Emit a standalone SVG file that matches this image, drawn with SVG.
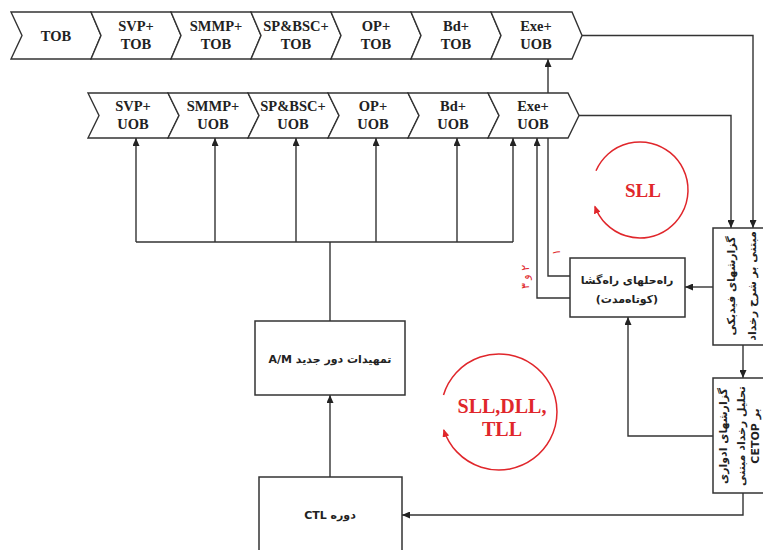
<svg xmlns="http://www.w3.org/2000/svg" width="763" height="550" viewBox="0 0 763 550">
<style>
.chev{fill:#fff;stroke:#333;stroke-width:1.4}
.box{fill:#fff;stroke:#333;stroke-width:1.5}
.lbl{font-family:"Liberation Serif","Times New Roman",serif;font-weight:bold;font-size:14.5px;fill:#222;text-anchor:middle}
.fa{font-family:"DejaVu Sans","Noto Sans",sans-serif;font-weight:bold;font-size:11px;fill:#222;text-anchor:middle;direction:rtl;unicode-bidi:embed}
.ln{fill:none;stroke:#333;stroke-width:1.4}
.arr{marker-end:url(#ah)}
.red{fill:none;stroke:#e0262b;stroke-width:1.5;marker-end:url(#rh)}
.rt{font-family:"Liberation Serif","Times New Roman",serif;font-weight:bold;fill:#e0262b;text-anchor:middle}
.rn{font-family:"DejaVu Sans",sans-serif;font-size:11px;fill:#e0262b;text-anchor:middle;direction:rtl;unicode-bidi:embed}
</style>
<defs>
<marker id="ah" markerUnits="userSpaceOnUse" markerWidth="8" markerHeight="7" refX="8" refY="3.5" orient="auto"><path d="M0,0 L8,3.5 L0,7 Z" fill="#222"/></marker>
<marker id="rh" markerUnits="userSpaceOnUse" markerWidth="8" markerHeight="7" refX="7" refY="3.5" orient="auto"><path d="M0,0 L8,3.5 L0,7 Z" fill="#e0262b"/></marker>
</defs>
<rect width="763" height="550" fill="#fff"/>

<g id="connectors">
<path class="ln arr" d="M582,35.5 H753 V228"/>
<path class="ln arr" d="M579,115.5 H731 V228"/>
<path class="ln" d="M136,242 H513"/>
<path class="ln arr" d="M136,242 V138"/>
<path class="ln arr" d="M215,242 V138"/>
<path class="ln arr" d="M296,242 V138"/>
<path class="ln arr" d="M376,242 V138"/>
<path class="ln arr" d="M457,242 V138"/>
<path class="ln arr" d="M513,242 V138"/>
<path class="ln" d="M330,321 V242"/>
<path class="ln arr" d="M570,276 H548 V59"/>
<path class="ln arr" d="M570,298 H537 V138"/>
<path class="ln arr" d="M713,287 H685"/>
<path class="ln arr" d="M743,345 V378"/>
<path class="ln arr" d="M713,436 H628 V317"/>
<path class="ln arr" d="M743,493 V515 H402"/>
<path class="ln arr" d="M330,477 V395"/>
</g>

<g id="row1">
<g id="t1"><path class="chev" d="M11,12 H91 L101,35.5 L91,59 H11 L22,35.5 Z"/><text class="lbl" x="56" y="41">TOB</text></g>
<g id="t2"><path class="chev" d="M91,12 H171 L181,35.5 L171,59 H91 L101,35.5 Z"/><text class="lbl" x="136" y="31">SVP+</text><text class="lbl" x="136" y="49">TOB</text></g>
<g id="t3"><path class="chev" d="M171,12 H251 L261,35.5 L251,59 H171 L181,35.5 Z"/><text class="lbl" x="216" y="31">SMMP+</text><text class="lbl" x="216" y="49">TOB</text></g>
<g id="t4"><path class="chev" d="M251,12 H331 L341,35.5 L331,59 H251 L261,35.5 Z"/><text class="lbl" x="296" y="31">SP&amp;BSC+</text><text class="lbl" x="296" y="49">TOB</text></g>
<g id="t5"><path class="chev" d="M331,12 H411 L421,35.5 L411,59 H331 L341,35.5 Z"/><text class="lbl" x="376" y="31">OP+</text><text class="lbl" x="376" y="49">TOB</text></g>
<g id="t6"><path class="chev" d="M411,12 H491 L501,35.5 L491,59 H411 L421,35.5 Z"/><text class="lbl" x="456" y="31">Bd+</text><text class="lbl" x="456" y="49">TOB</text></g>
<g id="t7"><path class="chev" d="M491,12 H572 L582,35.5 L572,59 H491 L501,35.5 Z"/><text class="lbl" x="536" y="31">Exe+</text><text class="lbl" x="536" y="49">UOB</text></g>
</g>

<g id="row2">
<g id="u1"><path class="chev" d="M88,93 H168 L179,115.5 L168,138 H88 L99,115.5 Z"/><text class="lbl" x="133" y="111">SVP+</text><text class="lbl" x="133" y="129">UOB</text></g>
<g id="u2"><path class="chev" d="M168,93 H248 L259,115.5 L248,138 H168 L179,115.5 Z"/><text class="lbl" x="213" y="111">SMMP+</text><text class="lbl" x="213" y="129">UOB</text></g>
<g id="u3"><path class="chev" d="M248,93 H328 L339,115.5 L328,138 H248 L259,115.5 Z"/><text class="lbl" x="293" y="111">SP&amp;BSC+</text><text class="lbl" x="293" y="129">UOB</text></g>
<g id="u4"><path class="chev" d="M328,93 H408 L419,115.5 L408,138 H328 L339,115.5 Z"/><text class="lbl" x="373" y="111">OP+</text><text class="lbl" x="373" y="129">UOB</text></g>
<g id="u5"><path class="chev" d="M408,93 H488 L499,115.5 L488,138 H408 L419,115.5 Z"/><text class="lbl" x="453" y="111">Bd+</text><text class="lbl" x="453" y="129">UOB</text></g>
<g id="u6"><path class="chev" d="M488,93 H568 L579,115.5 L568,138 H488 L499,115.5 Z"/><text class="lbl" x="533" y="111">Exe+</text><text class="lbl" x="533" y="129">UOB</text></g>
</g>

<g id="sll">
<path class="red" d="M596,170.8 A48,48 0 1 1 594.9,206.4"/>
<text class="rt" x="643" y="197" font-size="19">SLL</text>
</g>

<g id="sll-dll-tll">
<path class="red" d="M443.5,395 A58,58 0 1 1 443.8,429.9"/>
<text class="rt" x="502" y="413" font-size="20">SLL,DLL,</text>
<text class="rt" x="502" y="436" font-size="20">TLL</text>
</g>

<g id="solutions">
<rect class="box" x="570" y="258" width="115" height="59"/>
<text class="fa" x="627" y="284">راه‌حلهای راه‌گشا</text>
<text class="fa" x="627" y="303">(کوتاه‌مدت)</text>
</g>

<g id="feedback">
<rect class="box" x="713" y="228" width="70" height="117"/>
<text class="fa" transform="rotate(-90 735 286)" x="735" y="286" font-size="11.5">گزارشهای فیدبکی</text>
<text class="fa" transform="rotate(-90 756 286)" x="756" y="286" font-size="11.5">مبتنی بر شرح رخداد</text>
</g>

<g id="periodic">
<rect class="box" x="713" y="378" width="70" height="115"/>
<text class="fa" transform="rotate(-90 727 436)" x="727" y="436">گزارشهای ادواری</text>
<text class="fa" transform="rotate(-90 745 436)" x="745" y="436">تحلیل رخداد مبتنی</text>
<text class="fa" transform="rotate(-90 759 436)" x="759" y="436" font-size="9.5">بر CETOP</text>
</g>

<g id="am">
<rect class="box" x="255" y="321" width="150" height="74"/>
<text class="fa" x="330" y="363">تمهیدات دور جدید A/M</text>
</g>

<g id="ctl">
<rect class="box" x="259" y="477" width="143" height="90"/>
<text class="fa" x="330" y="519">دوره CTL</text>
</g>

<g id="marks">
<text class="rn" transform="rotate(-90 560 252)" x="560" y="252">۱</text>
<text class="rn" transform="rotate(-90 529 277)" x="529" y="277">۲ و ۳</text>
</g>
</svg>
